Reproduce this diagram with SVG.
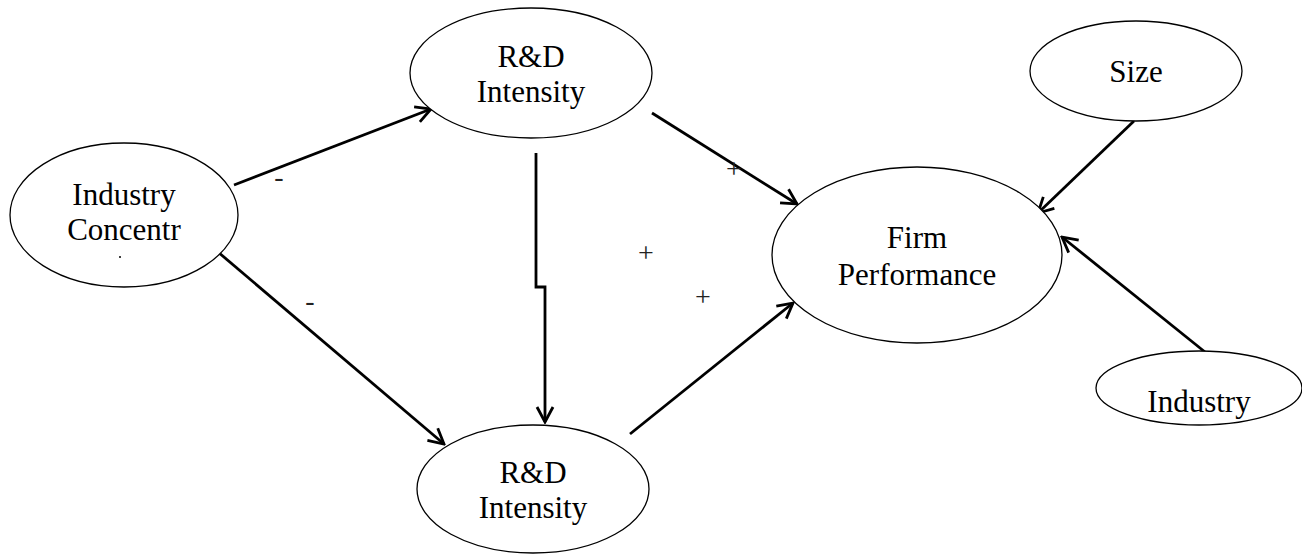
<svg xmlns="http://www.w3.org/2000/svg" width="1302" height="554" viewBox="0 0 1302 554">
<style>
.node ellipse{fill:#fff;stroke:#000;stroke-width:1.3}
.node text{font-family:"Liberation Serif","Times New Roman",serif;font-size:31px;fill:#000;text-anchor:middle}
.conn line,.conn path{stroke:#000;stroke-width:2.8;fill:none;marker-end:url(#arr)}
.sign{font-family:"Liberation Serif","Times New Roman",serif;font-size:28px;fill:#222;text-anchor:middle}
</style>
<defs>
<marker id="arr" markerUnits="userSpaceOnUse" viewBox="-18 -10 20 20" refX="0" refY="0" markerWidth="20" markerHeight="20" orient="auto">
<path d="M-15,-8 L0,0 L-15,8" fill="none" stroke="#000" stroke-width="2.8" stroke-linejoin="miter"/>
</marker>
</defs>
<rect width="1302" height="554" fill="#fff"/>
<g class="conn" id="connectors">
<line x1="234" y1="185" x2="431" y2="109"/>
<line x1="218" y1="252" x2="444" y2="444"/>
<path d="M536,153 L536,287 L545,287 L545,422"/>
<line x1="652" y1="113" x2="797" y2="204"/>
<line x1="630" y1="434" x2="793" y2="303"/>
<line x1="1134" y1="121" x2="1038" y2="213"/>
<line x1="1205" y1="352" x2="1062" y2="237"/>
</g>
<g class="node" id="industry-concentr">
<ellipse cx="124" cy="215" rx="114" ry="72"/>
<text x="124" y="205">Industry</text>
<text x="124" y="240">Concentr</text>
<circle cx="120" cy="257" r="1" fill="#000"/>
</g>
<g class="node" id="rd-top">
<ellipse cx="531" cy="73" rx="121" ry="65"/>
<text x="531" y="67">R&amp;D</text>
<text x="531" y="102">Intensity</text>
</g>
<g class="node" id="rd-bottom">
<ellipse cx="533" cy="489" rx="116" ry="64"/>
<text x="533" y="483">R&amp;D</text>
<text x="533" y="518">Intensity</text>
</g>
<g class="node" id="firm-performance">
<ellipse cx="917" cy="255" rx="145" ry="88"/>
<text x="917" y="248">Firm</text>
<text x="917" y="285">Performance</text>
</g>
<g class="node" id="size">
<ellipse cx="1136" cy="71" rx="106" ry="50"/>
<text x="1136" y="82">Size</text>
</g>
<g class="node" id="industry">
<ellipse cx="1199" cy="388" rx="103" ry="37"/>
<text x="1199" y="412">Industry</text>
</g>
<g id="signs">
<text class="sign" x="279" y="186">-</text>
<text class="sign" x="310" y="310">-</text>
<text class="sign" x="734" y="178">+</text>
<text class="sign" x="646" y="262">+</text>
<text class="sign" x="703" y="306">+</text>
</g>
</svg>
